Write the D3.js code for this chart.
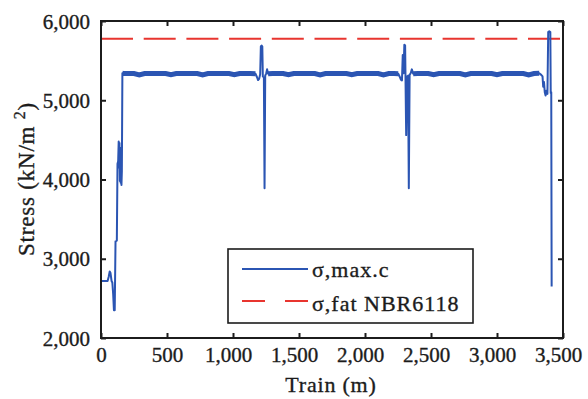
<!DOCTYPE html>
<html><head><meta charset="utf-8">
<script src="https://cdn.jsdelivr.net/npm/d3@7"></script>
<style>body{margin:0;background:#fff}svg text{font-family:"Liberation Serif","Times New Roman",serif;fill:#1c1c1c;stroke:#1c1c1c;stroke-width:0.35px}</style>
</head><body><svg id="c" width="588" height="399"></svg>
<script>
// ---- data ----
const xTicks = [0, 500, 1000, 1500, 2000, 2500, 3000, 3500];
const xTickLabels = ["0", "500", "1,000", "1,500", "2,000", "2,500", "3,000", "3,500"];
const yTicks = [2000, 3000, 4000, 5000, 6000];
const yTickLabels = ["2,000", "3,000", "4,000", "5,000", "6,000"];
const seriesNames = ["σ,max.c", "σ,fat NBR6118"];
const fatigueLimit = 5775;
const trainM = [
  0, 50, 58, 66, 72, 80, 86, 92, 98, 104, 110, 120, 125, 130, 134, 137, 140, 143, 146, 149, 152, 155, 158, 162,
  170, 210, 250, 290, 330, 370, 410, 450, 490, 530, 570, 610, 650, 690, 730, 770, 810, 850, 890, 930, 970, 1010, 1050, 1090, 1130, 1170,
  1182, 1190, 1198, 1206, 1211, 1216, 1222, 1226, 1234, 1239, 1244, 1252, 1258, 1266,
  1300, 1340, 1380, 1420, 1460, 1500, 1540, 1580, 1620, 1660, 1700, 1740, 1780, 1820, 1860, 1900, 1940, 1980, 2020, 2060, 2100, 2140, 2180, 2220, 2252,
  2262, 2272, 2280, 2286, 2292, 2298, 2304, 2312, 2318, 2326, 2332, 2338, 2346, 2355, 2365,
  2400, 2440, 2480, 2520, 2560, 2600, 2640, 2680, 2720, 2760, 2800, 2840, 2880, 2920, 2960, 3000, 3040, 3080, 3120, 3160, 3200, 3240, 3280, 3320,
  3335, 3345, 3350, 3356, 3362, 3368, 3374, 3382, 3388, 3396, 3404, 3407, 3411, 3414
];
const stressMax = [
  2720, 2720, 2770, 2840, 2820, 2720, 2700, 2560, 2350, 2350, 3220, 3230, 4200, 4230, 4480, 4150, 4460, 3980, 4400, 3960, 4250, 3930, 4100, 5340,
  5338, 5336, 5338, 5320, 5338, 5336, 5338, 5336, 5338, 5322, 5338, 5336, 5338, 5336, 5338, 5320, 5338, 5336, 5338, 5336, 5338, 5322, 5338, 5336, 5338, 5335,
  5290, 5255, 5270, 5330, 5680, 5690, 5680, 5300, 5290, 3890, 5310, 5340, 5390, 5335,
  5338, 5336, 5338, 5322, 5338, 5336, 5338, 5336, 5338, 5320, 5338, 5336, 5338, 5336, 5338, 5322, 5338, 5336, 5338, 5336, 5338, 5320, 5338, 5336, 5335,
  5300, 5260, 5250, 5570, 5340, 5700, 5690, 4560, 5300, 5310, 3890, 5320, 5340, 5390, 5335,
  5338, 5336, 5338, 5322, 5338, 5336, 5338, 5336, 5338, 5320, 5338, 5336, 5338, 5336, 5338, 5322, 5338, 5336, 5338, 5336, 5338, 5320, 5338, 5340,
  5320, 5300, 5170, 5230, 5100, 5060, 5120, 5080, 5860, 5870, 5860, 5090, 5100, 2650
];
const plateauRanges = [[162, 1175], [1262, 2258], [2362, 3330]];

// ---- layout ----
const svg = d3.select("#c");
const L = 101, R = 563, T = 21, B = 338;
const x = d3.scaleLinear().domain([0, 3500]).range([L, R]);
const y = d3.scaleLinear().domain([2000, 6000]).range([B, T]);
const blue = "#2b55b3", red = "#e8352f", ink = "#1c1c1c";

const pts = trainM.map((m, i) => [m, stressMax[i]]);
const line = d3.line().x(d => x(d[0])).y(d => y(d[1]));

// fatigue limit
svg.append("line").attr("x1", x(0)).attr("x2", x(3500)).attr("y1", y(fatigueLimit)).attr("y2", y(fatigueLimit))
  .attr("stroke", red).attr("stroke-width", 2).attr("stroke-dasharray", "32,10.7");

// main series
svg.append("path").attr("d", line(pts)).attr("fill", "none").attr("stroke", blue).attr("stroke-width", 2).attr("stroke-linejoin", "round");
plateauRanges.forEach(r => {
  const sub = pts.filter(p => p[0] >= r[0] && p[0] <= r[1]);
  svg.append("path").attr("d", line(sub)).attr("fill", "none").attr("stroke", blue).attr("stroke-width", 5);
});

// axes frame
svg.append("rect").attr("x", L).attr("y", T).attr("width", R - L).attr("height", B - T)
  .attr("fill", "none").attr("stroke", ink).attr("stroke-width", 2);

const gb = svg.append("g").attr("transform", `translate(0,${B})`)
  .call(d3.axisBottom(x).tickValues(xTicks).tickSizeInner(-5).tickSizeOuter(0).tickPadding(9).tickFormat((d, i) => xTickLabels[i]));
const gt = svg.append("g").attr("transform", `translate(0,${T})`)
  .call(d3.axisTop(x).tickValues(xTicks).tickSizeInner(-5).tickSizeOuter(0).tickFormat(""));
const gl = svg.append("g").attr("transform", `translate(${L},0)`)
  .call(d3.axisLeft(y).tickValues(yTicks).tickSizeInner(-5).tickSizeOuter(0).tickPadding(11).tickFormat((d, i) => yTickLabels[i]));
const gr = svg.append("g").attr("transform", `translate(${R},0)`)
  .call(d3.axisRight(y).tickValues(yTicks).tickSizeInner(-5).tickSizeOuter(0).tickFormat(""));
[gb, gt, gl, gr].forEach(g => {
  g.select(".domain").remove();
  g.selectAll(".tick line").attr("stroke", ink).attr("stroke-width", 2);
  g.selectAll("text").attr("font-size", 21).attr("fill", ink).attr("font-family", null);
});
gb.selectAll(".tick text").attr("dx", (d, i) => xTickLabels[i].includes(",") ? -5 : 0);
gl.selectAll(".tick text").attr("dy", "0.34em");

// axis titles
svg.append("text").attr("x", 331).attr("y", 392).attr("text-anchor", "middle").attr("font-size", 22).attr("letter-spacing", 0.8).text("Train (m)");
const yt = svg.append("text").attr("transform", "translate(34,179) rotate(-90)").attr("text-anchor", "middle").attr("font-size", 23).attr("letter-spacing", 0.8);
yt.append("tspan").text("Stress (kN/m ");
yt.append("tspan").attr("dy", -9).attr("font-size", 16).text("2");
yt.append("tspan").attr("dy", 9).text(")");

// legend
const lg = svg.append("g");
lg.append("rect").attr("x", 228).attr("y", 249).attr("width", 245).attr("height", 74)
  .attr("fill", "#fff").attr("stroke", ink).attr("stroke-width", 1.6);
lg.append("line").attr("x1", 242).attr("x2", 308).attr("y1", 269).attr("y2", 269).attr("stroke", blue).attr("stroke-width", 2);
lg.append("line").attr("x1", 242).attr("x2", 308).attr("y1", 301).attr("y2", 301).attr("stroke", red).attr("stroke-width", 2).attr("stroke-dasharray", "23,20");
lg.append("text").attr("x", 312).attr("y", 277).attr("font-size", 22).attr("letter-spacing", 1).text(seriesNames[0]);
lg.append("text").attr("x", 312).attr("y", 311).attr("font-size", 22).attr("letter-spacing", 1).text(seriesNames[1]);
</script></body></html>
